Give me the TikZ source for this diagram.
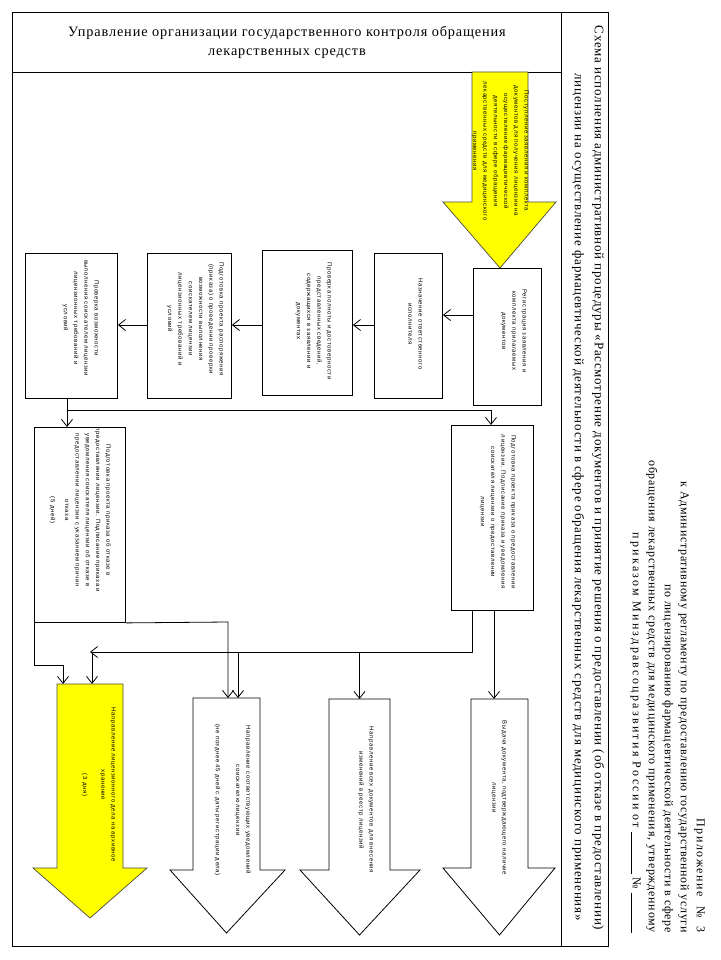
\documentclass[tikz,border=0pt]{standalone}
\usepackage{fontspec}
\setmainfont{Liberation Serif}
\newfontfamily\boxfont[LetterSpace=10]{Liberation Sans}
\newfontfamily\hdrfont[LetterSpace=6]{Liberation Serif}
\usetikzlibrary{arrows.meta}
\definecolor{ylw}{RGB}{255,255,0}
\newcommand{\mkblockarrow}[8]{\draw[#1] (#2,#4) -- (#3,#4) -- (#3,#5) -- (#7,#5) -- ({(#2+#3)/2},#8) -- (#6,#5) -- (#2,#5) -- cycle;}
\tikzset{
  frame/.style={draw=black, line width=0.9pt},
  stepbox/.style={draw=black, line width=0.9pt, fill=white, inner sep=0pt, anchor=north west},
  btxt/.style={rotate=-90, anchor=north, font=\boxfont\fontsize{6}{10.3}\selectfont, align=center, inner sep=0pt},
  hdr/.style={font=\hdrfont\fontsize{14.3}{19}\selectfont, align=center, inner sep=0pt},
  arr/.style={-{Straight Barb[length=7pt,width=11pt]}, line width=0.8pt},
  conn/.style={line width=0.8pt},
  yarrow/.style={draw=black!80!yellow, line width=0.7pt, fill=ylw},
  warrow/.style={draw=black, line width=0.8pt, fill=white},
}
\begin{document}
\begin{tikzpicture}[x=1pt,y=-1pt]
\useasboundingbox (0,0) rectangle (720,960);
\fill[white] (0,0) rectangle (720,960);

% appendix header
\node[rotate=-90, anchor=north east, align=right, inner sep=0pt,
      font=\hdrfont\fontsize{12}{16}\selectfont] (app) at (705,933)
  {{\addfontfeature{LetterSpace=13}Приложение\ \ №\ \ 3}\\
   к Административному регламенту по предоставлению государственной услуги\\
   по лицензированию фармацевтической деятельности в сфере\\
   обращения лекарственных средств для медицинского применения, утвержденному\\
   {\addfontfeature{LetterSpace=19}приказом Минздравсоцразвития России от} \underline{\hspace{42pt}}\ № \underline{\hspace{40pt}}};

% frames
\draw[frame] (12,12) rectangle (608,946);
\draw[frame] (561,12) -- (561,946);
\draw[frame] (12,72) -- (561,72);

% title column
\node[rotate=-90, hdr, font=\hdrfont\fontsize{13}{20}\selectfont] (title) at (588,478)
  {Схема исполнения административной процедуры «Рассмотрение документов и принятие решения о предоставлении (об отказе в предоставлении)\\
   \hspace*{38pt}лицензии на осуществление фармацевтической деятельности в сфере обращения лекарственных средств для медицинского применения»};

% department header
\node[hdr] (dept) at (287,42.5)
  {Управление организации государственного контроля обращения\\лекарственных средств};

% top yellow arrow
\mkblockarrow{yarrow}{472}{528}{72}{202}{443}{556}{268}
\node[btxt] (tin) at (529,151)
  {Поступление заявления и комплекта\\документов для получения лицензии на\\осуществление фармацевтической\\деятельности в сфере обращения\\лекарственных средств для медицинского\\применения};

% step boxes
\node[stepbox, minimum width=68pt, minimum height=137pt] (b1) at (473,268) {};
\node[stepbox, minimum width=68pt, minimum height=145pt] (b2) at (374,253) {};
\node[stepbox, minimum width=90pt, minimum height=145pt] (b3) at (262,250) {};
\node[stepbox, minimum width=84pt, minimum height=145pt] (b4) at (147,253) {};
\node[stepbox, minimum width=92pt, minimum height=145pt] (b5) at (25,253) {};
\node[stepbox, minimum width=82pt, minimum height=185pt] (b6) at (451,425) {};
\node[stepbox, minimum width=91pt, minimum height=195pt] (b7) at (34,427) {};

\node[btxt] (t1) at (527,331) {Регистрация заявления и\\комплекта прилагаемых\\документов};
\node[btxt] (t2) at (423,324) {Назначение ответственного\\исполнителя};
\node[btxt] (t3) at (332,321) {Проверка полноты и достоверности\\представленных сведений,\\содержащихся в заявлении и\\документах};
\node[btxt] (t4) at (224,319) {Подготовка проекта распоряжения\\(приказа) о проведении проверки\\возможности выполнения\\соискателем лицензии\\лицензионных требований и\\условий};
\node[btxt] (t5) at (99,318) {Проверка возможности\\выполнения соискателем лицензии\\лицензионных требований и\\условий};
\node[btxt] (t6) at (516,512) {Подготовка проекта приказа о предоставлении\\лицензии. Подписание приказа и уведомления\\соискателя лицензии о предоставлении\\лицензии};
\node[btxt] (t7) at (111,510) {Подготовка проекта приказа об отказе в\\предоставлении лицензии. Подписание приказа и\\уведомления соискателя лицензии об отказе в\\предоставлении лицензии с указанием причин\\отказа\\[4pt](5 дней)};

% bottom block arrows
\mkblockarrow{warrow}{471}{528}{699}{868}{443}{555}{935}
\mkblockarrow{warrow}{329}{390}{699}{870}{300}{420}{935}
\mkblockarrow{warrow}{193}{260}{698}{870}{170}{285}{933}
\mkblockarrow{yarrow}{57}{123}{684}{868}{33}{147}{918}
\coordinate (A1) at (499.5,699);
\coordinate (A2) at (359.5,699);
\coordinate (A3) at (226.5,698);
\coordinate (A4) at (90,684);

\node[btxt] (ta1) at (507,798) {Выдача документа, подтверждающего наличие\\лицензии};
\node[btxt] (ta2) at (374,800) {Направление всех документов для внесения\\изменений в реестр лицензий};
\node[btxt] (ta3) at (251,800) {Направление соответствующих уведомлений\\соискателю лицензии\\[10pt](не позднее 45 дней с даты регистрации дела)};
\node[btxt] (ta4) at (116,785) {Направление лицензионного дела на архивное\\хранение\\[8pt](3 дня)};

% connectors
\draw[arr] (b1.west |- 0,315) -- (b2.east |- 0,315);
\draw[arr] (b2.west |- 0,325) -- (b3.east |- 0,325);
\draw[arr] (b3.west |- 0,325) -- (b4.east |- 0,325);
\draw[arr] (b4.west |- 0,325) -- (b5.east |- 0,325);

\coordinate (j1) at (67,410);
\coordinate (j2) at (491,410);
\draw[conn] (b5.south -| j1) -- (j1);
\draw[arr] (j1) -- (j1 |- b7.north);
\draw[arr] (j1) -- (j2) -- (j2 |- b6.north);

\draw[arr] (b6.south -| 494,0) -- (A1 -| 494,0);
\coordinate (bus) at (472,652);
\draw[arr] (b6.south -| bus) -- (bus) -- (90,652);
\draw[arr] (bus -| A2) -- (A2);
\draw[arr] (238,652) -- (A3 -| 238,0);
\draw[arr] (92,652) -- (A4 -| 92,0);

\draw[arr] (b7.south east) -- (228,622) -- (A3 -| 228,0);
\draw[arr] (b7.south west) -- (34,665) -- (63,665) -- (A4 -| 63,0);
\end{tikzpicture}
\end{document}
